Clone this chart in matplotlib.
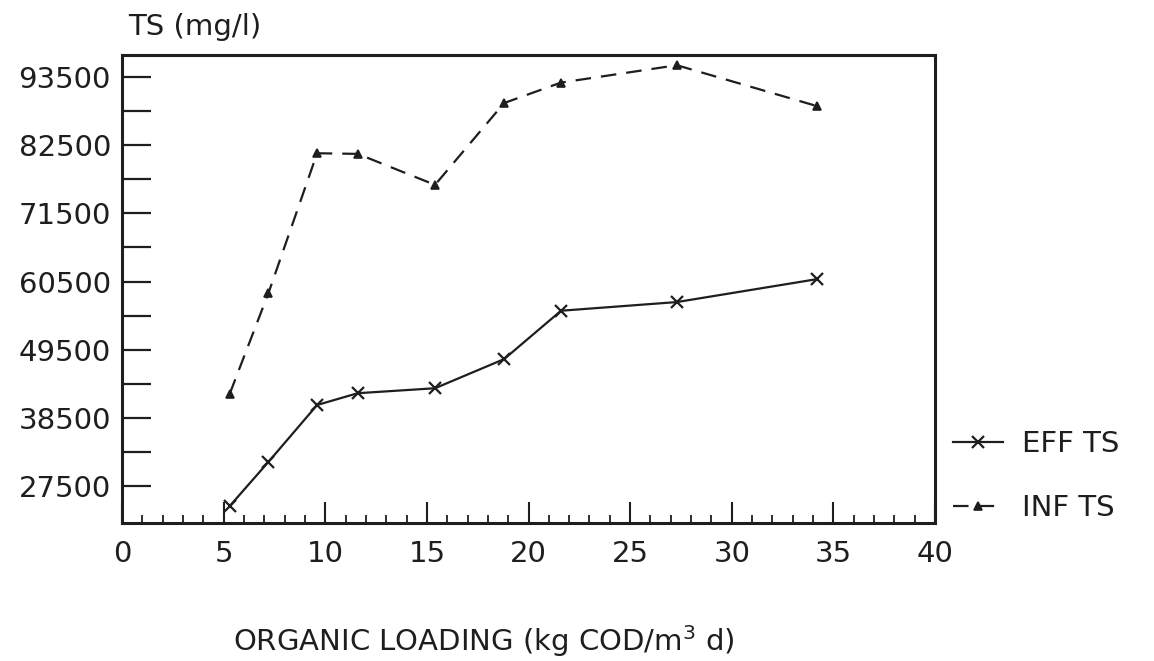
import matplotlib
matplotlib.use("Agg")
import matplotlib.pyplot as plt
from matplotlib.ticker import MultipleLocator, FixedLocator

# Data
loading = [5.3, 7.2, 9.6, 11.6, 15.4, 18.8, 21.6, 27.3, 34.2]
eff_ts = [24300, 31400, 40600, 42500, 43300, 48000, 55800, 57200, 60900]
inf_ts = [42400, 58600, 81200, 81100, 76100, 89300, 92600, 95400, 88800]
ytick_vals = [27500, 38500, 49500, 60500, 71500, 82500, 93500]
xtick_vals = [0, 5, 10, 15, 20, 25, 30, 35, 40]

ink = "#1e1e1e"
plt.rcParams['font.family'] = ['DejaVu Sans']

fig = plt.figure(figsize=(11.54, 6.61), dpi=100)
ax = fig.add_axes([122/1154, 1-523/661, (935-122)/1154, (523-55)/661])

ax.plot(loading, eff_ts, color=ink, lw=1.6, marker='x', ms=9, mew=1.6,
        label='EFF TS')
ax.plot(loading, inf_ts, color=ink, lw=1.6, marker='^', ms=6, mew=1.2,
        dashes=(7, 4.5), label='INF TS')

ax.set_xlim(0, 40)
ax.set_ylim(21565, 97048)

ymid = [(a + b) / 2 for a, b in zip(ytick_vals[:-1], ytick_vals[1:])]
ax.xaxis.set_major_locator(FixedLocator(xtick_vals))
ax.xaxis.set_minor_locator(MultipleLocator(1))
ax.yaxis.set_major_locator(FixedLocator(ytick_vals))
ax.yaxis.set_minor_locator(FixedLocator(ymid))

ax.tick_params(axis='x', which='major', direction='in', length=15, width=1.5,
               pad=12, labelsize=21, colors=ink, top=False)
ax.tick_params(axis='x', which='minor', direction='in', length=6, width=1.3,
               top=False, colors=ink)
ax.tick_params(axis='y', which='major', direction='in', length=21, width=1.6,
               pad=8, labelsize=21, colors=ink, right=False)
ax.tick_params(axis='y', which='minor', direction='in', length=21, width=1.6,
               right=False, colors=ink)

for s in ax.spines.values():
    s.set_linewidth(2.2)
    s.set_color(ink)

ax.legend(loc='center left', bbox_to_anchor=(0.99, 0.10), frameon=False,
          fontsize=21, handlelength=1.7, handletextpad=0.65, labelspacing=1.25,
          labelcolor=ink)

fig.text(128/1154, 1-27/661, 'TS (mg/l)', fontsize=21, color=ink,
         ha='left', va='center')
fig.text(484/1154, 1-641/661, 'ORGANIC LOADING (kg COD/m$^3$ d)', fontsize=21,
         color=ink, ha='center', va='center')

fig.savefig('out.png', dpi=100)
